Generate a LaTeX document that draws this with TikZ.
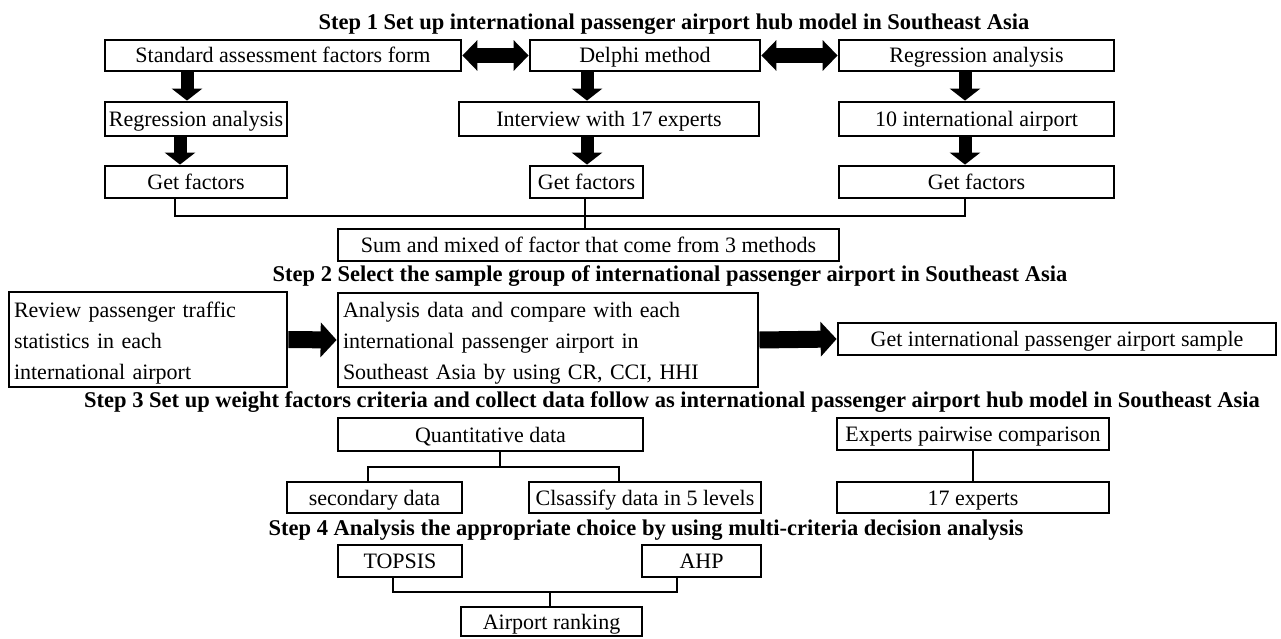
\documentclass[tikz,border=0pt]{standalone}
\usepackage{fontspec}
\setmainfont{Liberation Serif}
\usetikzlibrary{arrows.meta}
\begin{document}
\begin{tikzpicture}[x=1pt,y=-1pt,
  box/.style={draw, line width=2.8pt, inner sep=0pt, minimum height=32pt,
    font=\fontsize{22}{26}\selectfont, text height=17.5pt, text depth=2.5pt},
  mbox/.style={draw, line width=2.8pt, inner xsep=5pt, inner ysep=0pt, align=left,
    font=\fontsize{22}{31}\selectfont},
  ttl/.style={font=\bfseries\fontsize{22.5}{26}\selectfont, inner sep=0pt},
  darr/.style={line width=13pt, -{Triangle[length=12pt,width=30pt]}},
  dbl/.style={line width=15pt, {Triangle[length=15pt,width=30pt]}-{Triangle[length=15pt,width=30pt]}},
  rarr/.style={line width=17pt, -{Triangle[length=16pt,width=34pt]}},
  conn/.style={line width=2pt}]
\fill[white] (0,0) rectangle (1281,639);
\useasboundingbox (0,0) rectangle (1281,639);

% Step 1
\node[ttl] (s1) at (674,24) {Step 1 Set up international passenger airport hub model in Southeast Asia};
\node[box, minimum width=356pt, minimum height=31pt] (std) at (283,55.5) {Standard assessment factors form};
\node[box, minimum width=230pt, minimum height=31pt] (delphi) at (645,55.5) {Delphi method};
\node[box, minimum width=275pt, minimum height=31pt] (regR) at (976.5,55.5) {Regression analysis};
\node[box, minimum width=182pt, minimum height=34pt] (regL) at (196,119) {Regression analysis};
\node[box, minimum width=300pt, minimum height=34pt] (intv) at (609,119) {Interview with 17 experts};
\node[box, minimum width=275pt, minimum height=34pt] (tenair) at (976.5,119) {10 international airport};
\node[box, minimum width=182pt] (gfL) at (196,182) {Get factors};
\node[box, minimum width=113pt] (gfM) at (586.5,182) {Get factors};
\node[box, minimum width=275pt] (gfR) at (976.5,182) {Get factors};
\node[box, minimum width=501pt] (sum) at (588.5,245) {Sum and mixed of factor that come from 3 methods};

\draw[dbl] (std.east) -- (delphi.west);
\draw[dbl] (delphi.east) -- (regR.west);

\coordinate (xa1) at (187,0);
\coordinate (xa2) at (180,0);
\coordinate (xb) at (587,0);
\coordinate (xc) at (965,0);
\draw[darr] (xa1 |- std.south) -- (xa1 |- regL.north);
\draw[darr] (xa2 |- regL.south) -- (xa2 |- gfL.north);
\draw[darr] (xb |- delphi.south) -- (xb |- intv.north);
\draw[darr] (xb |- intv.south) -- (xb |- gfM.north);
\draw[darr] (xc |- regR.south) -- (xc |- tenair.north);
\draw[darr] (xc |- tenair.south) -- (xc |- gfR.north);

\coordinate (l1) at (175,0);
\coordinate (l2) at (585,0);
\coordinate (l3) at (965,0);
\coordinate (hy) at (0,216);
\draw[conn] (l1 |- gfL.south) -- (l1 |- hy) -- (l3 |- hy) -- (l3 |- gfR.south);
\draw[conn] (l2 |- gfM.south) -- (l2 |- sum.north);

% Step 2
\node[ttl] (s2) at (670,276) {Step 2 Select the sample group of international passenger airport in Southeast Asia};
\node[mbox, text width=268pt, minimum height=95pt] (review) at (148,339.5)
  {\rule{0pt}{22pt}Review passenger traffic\\statistics in each\\international airport};
\node[mbox, text width=410pt, minimum height=94pt] (analysis) at (548,340)
  {\rule{0pt}{22pt}Analysis data and compare with each\\international passenger airport in\\Southeast Asia by using CR, CCI, HHI};
\node[box, minimum width=438pt] (sample) at (1057,339) {Get international passenger airport sample};
\draw[rarr] (review.east) -- (analysis.west);
\draw[rarr] (analysis.east) -- (sample.west);

% Step 3
\node[ttl] (s3) at (672,402) {Step 3 Set up weight factors criteria and collect data follow as international passenger airport hub model in Southeast Asia};
\node[box, minimum width=305pt, minimum height=33pt] (quant) at (490.5,434.5) {Quantitative data};
\node[box, minimum width=272pt] (pair) at (973,434) {Experts pairwise comparison};
\node[box, minimum width=175pt, minimum height=31pt] (second) at (374.5,497.5) {secondary data};
\node[box, minimum width=232pt, minimum height=31pt] (classify) at (645,497.5) {Clsassify data in 5 levels};
\node[box, minimum width=272pt, minimum height=31pt] (seventeen) at (973,497.5) {17 experts};

\coordinate (q0) at (500,467);
\coordinate (qs) at (368,0);
\coordinate (qc) at (619,0);
\draw[conn] (q0 |- quant.south) -- (q0);
\draw[conn] (qs |- second.north) -- (qs |- q0) -- (qc |- q0) -- (qc |- classify.north);
\draw[conn] (pair) -- (seventeen);

% Step 4
\node[ttl] (s4) at (646,530) {Step 4 Analysis the appropriate choice by using multi-criteria decision analysis};
\node[box, minimum width=124pt] (topsis) at (400,561) {TOPSIS};
\node[box, minimum width=119pt] (ahp) at (701.5,561) {AHP};
\node[box, minimum width=181pt, minimum height=29pt] (rank) at (551.5,621.5) {Airport ranking};

\coordinate (t1) at (393,0);
\coordinate (t2) at (677,0);
\coordinate (t3) at (550,0);
\coordinate (ty) at (0,592);
\draw[conn] (t1 |- topsis.south) -- (t1 |- ty) -- (t2 |- ty) -- (t2 |- ahp.south);
\draw[conn] (t3 |- ty) -- (t3 |- rank.north);
\end{tikzpicture}
\end{document}
